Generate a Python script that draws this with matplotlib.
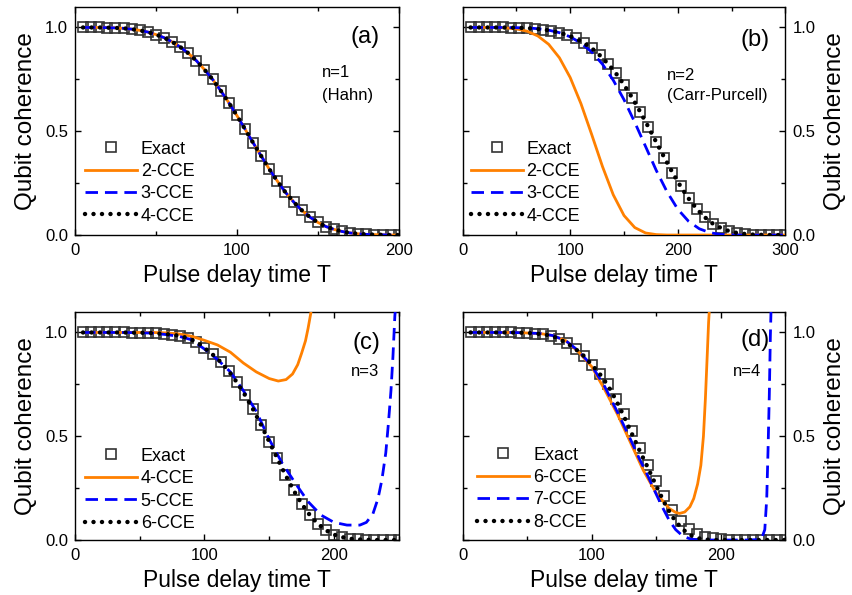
import numpy as np
import matplotlib
matplotlib.use("Agg")
import matplotlib.pyplot as plt
from matplotlib.ticker import MultipleLocator, FormatStrFormatter

OUT_PLOT = "out.png"

# ---------------- data ----------------
# panel (a): n=1 (Hahn), exact + 2/3/4-CCE all coincide
t_a = np.linspace(5, 200, 40)
exact_a = [1.000, 1.000, 1.000, 0.999, 0.998, 0.996, 0.992, 0.986, 0.978, 0.966,
           0.951, 0.931, 0.906, 0.876, 0.840, 0.797, 0.750, 0.696, 0.638, 0.576,
           0.511, 0.445, 0.381, 0.318, 0.260, 0.206, 0.160, 0.120, 0.087, 0.061,
           0.041, 0.027, 0.017, 0.010, 0.006, 0.003, 0.002, 0.001, 0.000, 0.000]
cce2_a = exact_a
cce3_a = exact_a
cce4_a = exact_a

# panel (b): n=2 (Carr-Purcell)
t_b = np.linspace(7.5, 300, 40)
exact_b = [1.000, 1.000, 1.000, 1.000, 1.000, 0.999, 0.998, 0.997, 0.994, 0.990,
           0.984, 0.975, 0.963, 0.947, 0.926, 0.900, 0.866, 0.826, 0.779, 0.724,
           0.662, 0.594, 0.522, 0.447, 0.373, 0.301, 0.235, 0.176, 0.126, 0.086,
           0.055, 0.034, 0.019, 0.010, 0.005, 0.002, 0.001, 0.000, 0.000, 0.000]
cce4_b = exact_b
t_line_b = [7.5, 10, 20, 30, 40, 50, 60, 70, 80, 90, 100, 110, 120, 130, 140, 150,
            160, 170, 180, 190, 200, 210, 220, 230, 240, 250, 260, 270, 280, 290, 300]
cce2_b = [1.000, 1.000, 1.000, 1.000, 0.998, 0.993, 0.982, 0.959, 0.919, 0.854, 0.759,
          0.633, 0.484, 0.330, 0.194, 0.094, 0.036, 0.010, 0.002, 0.000, 0.000,
          0.000, 0.000, 0.000, 0.000, 0.000, 0.000, 0.000, 0.000, 0.000, 0.000]
cce3_b = [1.000, 1.000, 1.000, 1.000, 1.000, 0.999, 0.998, 0.994, 0.987, 0.975, 0.955,
          0.925, 0.882, 0.823, 0.746, 0.652, 0.543, 0.427, 0.311, 0.208, 0.124,
          0.066, 0.030, 0.011, 0.003, 0.001, 0.000, 0.000, 0.000, 0.000, 0.000]

# panel (c): n=3
t_c = np.linspace(6.25, 250, 40)
exact_c = [1.000, 1.000, 1.000, 1.000, 1.000, 1.000, 0.999, 0.999, 0.998, 0.996,
           0.993, 0.990, 0.983, 0.972, 0.955, 0.925, 0.894, 0.858, 0.814, 0.760,
           0.699, 0.630, 0.554, 0.474, 0.393, 0.314, 0.240, 0.175, 0.121, 0.078,
           0.047, 0.026, 0.014, 0.006, 0.003, 0.001, 0.000, 0.000, 0.000, 0.000]
cce6_c = exact_c
t_cce4_c = [6.25, 20, 40, 60, 70, 80, 90, 100, 110, 120, 130, 140, 150, 157, 163,
            168, 172, 175, 178, 180, 182, 183]
cce4_c = [1.000, 1.000, 1.000, 1.000, 0.998, 0.993, 0.982, 0.962, 0.940, 0.905, 0.853,
          0.810, 0.778, 0.766, 0.773, 0.800, 0.845, 0.900, 0.960, 1.020, 1.090, 1.130]
t_cce5_c = [6.25, 20, 40, 60, 70, 80, 90, 100, 110, 120, 130, 140, 150, 160, 170, 180,
            190, 200, 210, 220, 225, 230, 234, 237, 240, 242, 244, 245.5, 247, 248]
cce5_c = [1.000, 1.000, 1.000, 0.997, 0.990, 0.982, 0.965, 0.920, 0.870, 0.810, 0.720,
          0.620, 0.485, 0.370, 0.275, 0.185, 0.120, 0.085, 0.072, 0.072, 0.085, 0.125,
          0.200, 0.290, 0.420, 0.560, 0.720, 0.880, 1.080, 1.150]

# panel (d): n=4
t_d = np.linspace(6.25, 250, 40)
exact_d = [1.000, 1.000, 1.000, 1.000, 1.000, 1.000, 0.999, 0.998, 0.995, 0.991,
           0.985, 0.968, 0.947, 0.920, 0.888, 0.845, 0.800, 0.750, 0.680, 0.605,
           0.525, 0.445, 0.362, 0.282, 0.210, 0.146, 0.092, 0.054, 0.030, 0.016,
           0.008, 0.004, 0.002, 0.001, 0.000, 0.000, 0.000, 0.000, 0.000, 0.000]
cce8_d = [1.000, 1.000, 1.000, 1.000, 1.000, 1.000, 0.999, 0.998, 0.995, 0.991,
          0.985, 0.968, 0.947, 0.920, 0.888, 0.845, 0.800, 0.745, 0.675, 0.595,
          0.510, 0.425, 0.345, 0.260, 0.180, 0.112, 0.062, 0.028, 0.010, 0.003,
          0.000, 0.000, 0.000, 0.000, 0.000, 0.000, 0.000, 0.000, 0.000, 0.000]
t_cce6_d = [6.25, 20, 40, 60, 70, 80, 90, 100, 110, 120, 130, 140, 150, 160, 165,
            168, 172, 176, 179, 182, 184.5, 186.5, 188, 189.5, 190.5, 191.5]
cce6_d = [1.000, 1.000, 1.000, 0.995, 0.985, 0.960, 0.905, 0.835, 0.725, 0.605, 0.470,
          0.335, 0.225, 0.152, 0.133, 0.128, 0.135, 0.160, 0.200, 0.270, 0.360, 0.500,
          0.680, 0.900, 1.050, 1.150]
t_cce7_d = [6.25, 20, 40, 60, 70, 80, 90, 100, 110, 120, 130, 137, 143, 150, 155, 160,
            165, 170, 175, 180, 190, 200, 210, 220, 229, 232, 234, 235.5, 236.5, 237.5,
            238.3, 239]
cce7_d = [1.000, 1.000, 1.000, 0.995, 0.985, 0.960, 0.910, 0.840, 0.740, 0.615, 0.485,
          0.390, 0.315, 0.220, 0.155, 0.095, 0.050, 0.022, 0.008, 0.002, 0.000, 0.000,
          0.000, 0.000, 0.002, 0.015, 0.050, 0.200, 0.430, 0.700, 0.980, 1.150]

ORANGE = "#FF8000"
BLUE = "#0000FF"

plt.rcParams["font.family"] = ["Liberation Sans", "DejaVu Sans"]


def style_axes(ax, xmax, right=False):
    ax.set_xlim(0, xmax)
    ax.set_ylim(0, 1.1)
    ax.xaxis.set_major_locator(MultipleLocator(100))
    ax.xaxis.set_minor_locator(MultipleLocator(50))
    ax.yaxis.set_major_locator(MultipleLocator(0.5))
    ax.yaxis.set_minor_locator(MultipleLocator(0.25))
    ax.yaxis.set_major_formatter(FormatStrFormatter("%.1f"))
    ax.tick_params(which="both", direction="in", top=True, bottom=True,
                   left=True, right=True, labelsize=12, width=1)
    ax.tick_params(which="major", length=4, pad=5)
    ax.tick_params(which="minor", length=3)
    ax.tick_params(axis="x", which="major", pad=6)
    if right:
        ax.tick_params(axis="y", labelleft=False, labelright=True)
        ax.yaxis.set_label_position("right")
    for sp in ax.spines.values():
        sp.set_linewidth(1.0)
    ax.set_xlabel("Pulse delay time T", fontsize=16.5, labelpad=4)
    ax.set_ylabel("Qubit coherence", fontsize=17.5, labelpad=6)


def draw_panel(ax, t_ex, ex, orange, blue, dots, labels, leg_anchor):
    ax.plot(t_ex, ex, ls="none", marker="s", ms=7, mfc="none", mec="#333333",
            mew=1.2, zorder=2, label="Exact")
    ax.plot(orange[0], orange[1], color=ORANGE, lw=2.0, zorder=3, label=labels[0])
    ax.plot(blue[0], blue[1], color=BLUE, lw=2.0, ls=(0, (4.5, 2.5)), zorder=4,
            label=labels[1])
    ax.plot(dots[0], dots[1], color="k", lw=3.2, ls=(0, (0.01, 1.9)),
            dash_capstyle="round", zorder=5, label=labels[2])
    ax.legend(loc="lower left", bbox_to_anchor=leg_anchor, frameon=False,
              fontsize=13, handlelength=2.9, handletextpad=0.2, labelspacing=0.3,
              borderpad=0, borderaxespad=0, numpoints=1)


def main():
    fig = plt.figure(figsize=(8.52, 5.95), dpi=100)
    w, h = 0.380, 0.3837
    ax_a = fig.add_axes([0.088, 0.605, w, h])
    ax_b = fig.add_axes([0.5429, 0.605, 0.379, h])
    ax_c = fig.add_axes([0.088, 0.0924, w, h])
    ax_d = fig.add_axes([0.5429, 0.0924, 0.379, h])

    draw_panel(ax_a, t_a, exact_a, (t_a, cce2_a), (t_a, cce3_a), (t_a, cce4_a),
               ("2-CCE", "3-CCE", "4-CCE"), (0.03, 0.045))
    draw_panel(ax_b, t_b, exact_b, (t_line_b, cce2_b), (t_line_b, cce3_b), (t_b, cce4_b),
               ("2-CCE", "3-CCE", "4-CCE"), (0.025, 0.045))
    draw_panel(ax_c, t_c, exact_c, (t_cce4_c, cce4_c), (t_cce5_c, cce5_c), (t_c, cce6_c),
               ("4-CCE", "5-CCE", "6-CCE"), (0.03, 0.035))
    draw_panel(ax_d, t_d, exact_d, (t_cce6_d, cce6_d), (t_cce7_d, cce7_d), (t_d, cce8_d),
               ("6-CCE", "7-CCE", "8-CCE"), (0.045, 0.04))

    style_axes(ax_a, 200)
    style_axes(ax_b, 300, right=True)
    style_axes(ax_c, 250)
    style_axes(ax_d, 250, right=True)

    ax_a.text(0.895, 0.869, "(a)", transform=ax_a.transAxes, ha="center", va="center", fontsize=17)
    ax_a.text(0.764, 0.711, "n=1", transform=ax_a.transAxes, ha="left", va="center", fontsize=12)
    ax_a.text(0.764, 0.610, "(Hahn)", transform=ax_a.transAxes, ha="left", va="center", fontsize=12)

    ax_b.text(0.906, 0.854, "(b)", transform=ax_b.transAxes, ha="center", va="center", fontsize=17)
    ax_b.text(0.632, 0.700, "n=2", transform=ax_b.transAxes, ha="left", va="center", fontsize=12)
    ax_b.text(0.632, 0.613, "(Carr-Purcell)", transform=ax_b.transAxes, ha="left", va="center", fontsize=12)

    ax_c.text(0.900, 0.862, "(c)", transform=ax_c.transAxes, ha="center", va="center", fontsize=17)
    ax_c.text(0.895, 0.737, "n=3", transform=ax_c.transAxes, ha="center", va="center", fontsize=12)

    ax_d.text(0.906, 0.876, "(d)", transform=ax_d.transAxes, ha="center", va="center", fontsize=17)
    ax_d.text(0.882, 0.737, "n=4", transform=ax_d.transAxes, ha="center", va="center", fontsize=12)

    fig.savefig(OUT_PLOT, dpi=100)
    plt.close(fig)


if __name__ == "__main__":
    main()
